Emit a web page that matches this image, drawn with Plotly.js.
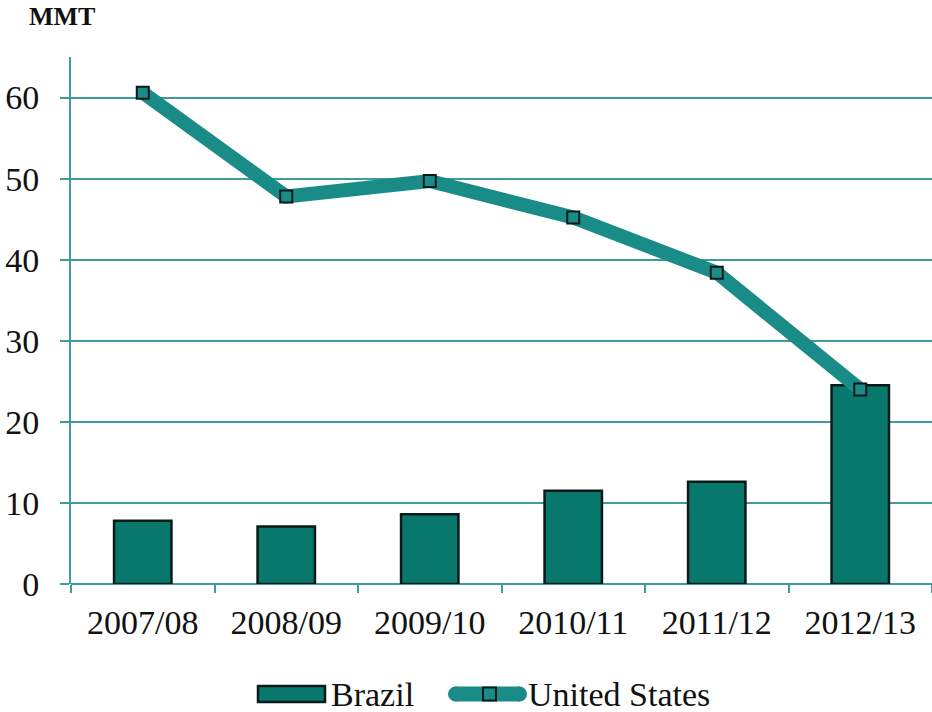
<!DOCTYPE html>
<html>
<head>
<meta charset="utf-8">
<script src="https://cdn.plot.ly/plotly-3.0.1.min.js"></script>
<style>html,body{margin:0;padding:0;background:#fff;}#chart{width:932px;height:712px;}</style>
</head>
<body>
<div id="chart"></div>
<script>
const categories = ["2007/08", "2008/09", "2009/10", "2010/11", "2011/12", "2012/13"];
const brazil = [7.8, 7.1, 8.6, 11.5, 12.6, 24.5];
const unitedStates = [60.6, 47.8, 49.7, 45.2, 38.4, 24.0];
const yTicks = [0, 10, 20, 30, 40, 50, 60];
const seriesNames = ["Brazil", "United States"];

const teal = "#08776c";
const lineTeal = "#1a8c88";
const gridTeal = "#3e9d9a";
const edge = "#0a1a18";
const serif = "Liberation Serif";

const traces = [
  {
    type: "bar", name: seriesNames[0], x: categories, y: brazil,
    width: 0.4,
    marker: {color: teal, line: {color: edge, width: 2.5}}
  },
  {
    type: "scatter", mode: "lines+markers", name: seriesNames[1],
    x: categories, y: unitedStates,
    line: {color: lineTeal, width: 14},
    marker: {symbol: "square", size: 12, color: lineTeal, line: {color: edge, width: 2}}
  }
];

// legend drawn manually, pixel offsets from plot origin (bottom-left)
function px(x0, x1, y0, y1, extra) {
  return Object.assign({
    xref: "paper", yref: "paper", xanchor: 0, yanchor: 0,
    xsizemode: "pixel", ysizemode: "pixel",
    x0: x0, x1: x1, y0: y0, y1: y1
  }, extra);
}
const shapes = [
  px(187, 254, -102, -118, {type: "rect", fillcolor: teal, line: {color: edge, width: 2.5}}),
  px(384, 449, -110, -110, {type: "line", line: {color: lineTeal, width: 15}}),
  px(377, 392, -102.5, -117.5, {type: "circle", fillcolor: lineTeal, line: {width: 0}}),
  px(441, 456, -102.5, -117.5, {type: "circle", fillcolor: lineTeal, line: {width: 0}}),
  px(412, 425, -103.5, -116.5, {type: "rect", fillcolor: lineTeal, line: {color: edge, width: 2}})
];

const layout = {
  width: 932, height: 712,
  margin: {l: 71, r: 0, t: 57, b: 128, autoexpand: false},
  paper_bgcolor: "#fff", plot_bgcolor: "#fff",
  font: {family: serif, color: "#111", size: 34},
  showlegend: false,
  xaxis: {
    type: "category",
    showgrid: false, showline: false, zeroline: false,
    ticks: "outside", tickson: "boundaries", ticklen: 8, tickwidth: 2, tickcolor: gridTeal,
    tickfont: {family: serif, size: 34, color: "#111"},
    ticklabelstandoff: 15,
    range: [-0.5, 5.5]
  },
  yaxis: {
    range: [0, 65], tickvals: yTicks,
    showgrid: true, gridcolor: gridTeal, gridwidth: 2,
    zeroline: true, zerolinecolor: gridTeal, zerolinewidth: 2,
    showline: true, linecolor: gridTeal, linewidth: 2,
    ticks: "outside", ticklen: 9, tickwidth: 2, tickcolor: gridTeal,
    tickfont: {family: serif, size: 34, color: "#111"},
    ticklabelstandoff: 14
  },
  shapes: shapes,
  annotations: [
    {
      text: "<b>MMT</b>", xref: "paper", yref: "paper", x: 0, y: 1,
      xanchor: "left", yanchor: "bottom", xshift: -44, yshift: 24,
      showarrow: false, font: {family: serif, size: 26, color: "#111"}
    },
    {
      text: seriesNames[0], xref: "paper", yref: "paper", x: 0, y: 0,
      xanchor: "left", yanchor: "middle", xshift: 258, yshift: -110,
      showarrow: false, font: {family: serif, size: 34, color: "#111"}
    },
    {
      text: seriesNames[1], xref: "paper", yref: "paper", x: 0, y: 0,
      xanchor: "left", yanchor: "middle", xshift: 455, yshift: -110,
      showarrow: false, font: {family: serif, size: 34, color: "#111"}
    }
  ]
};

Plotly.newPlot("chart", traces, layout, {displayModeBar: false, staticPlot: true});
</script>
</body>
</html>
